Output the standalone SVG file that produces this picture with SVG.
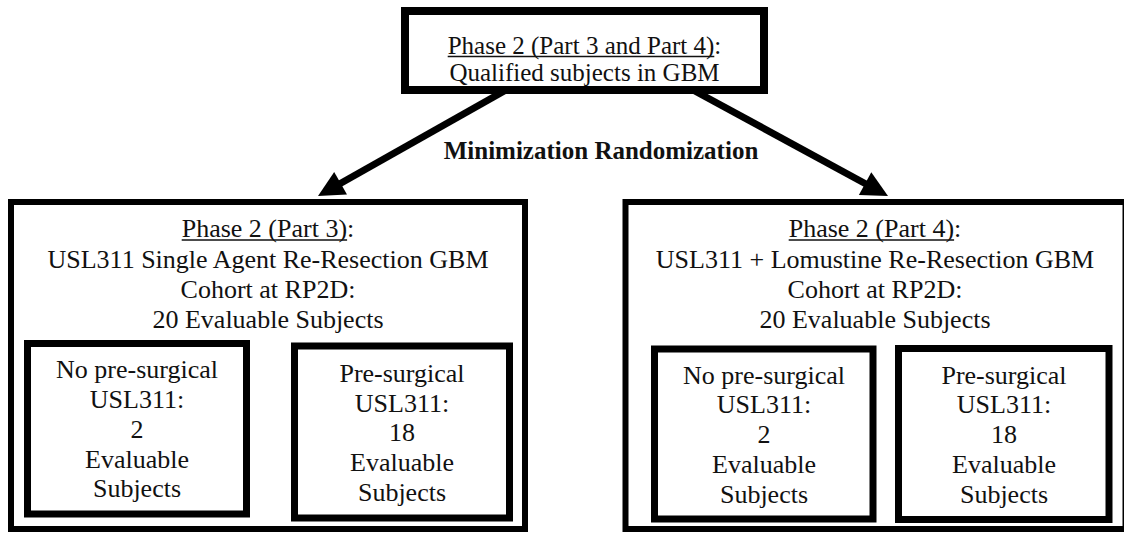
<svg xmlns="http://www.w3.org/2000/svg" width="1124" height="533" viewBox="0 0 1124 533">
  <style>
    .box { fill: #ffffff; stroke: #000000; }
    .outer { stroke-width: 6; }
    .inner { stroke-width: 7; }
    .top { stroke-width: 8; }
    text { font-family: "Liberation Serif", "Times New Roman", "DejaVu Serif", serif; font-size: 26px; fill: #111111; text-anchor: middle; }
    .small { font-size: 25px; }
    .bold { font-weight: bold; font-size: 25px; }
    .uline { stroke: #111111; stroke-width: 1.4; }
    .link { stroke: #000000; stroke-width: 7; fill: none; }
    .head { fill: #000000; }
  </style>
  <rect x="0" y="0" width="1124" height="533" fill="#ffffff"/>

  <!-- connectors -->
  <g id="connectors">
    <line class="link" x1="506" y1="90" x2="337.2" y2="185.2"/>
    <polygon class="head" points="318,196 347,194.5 334.2,171.9"/>
    <line class="link" x1="693" y1="90" x2="868.7" y2="185.5"/>
    <polygon class="head" points="888,196 858.9,195 871.3,172.2"/>
    <text class="bold" x="601" y="159">Minimization Randomization</text>
  </g>

  <!-- entry node -->
  <g id="qualified">
    <rect class="box top" x="405" y="11" width="359" height="79"/>
    <text class="small" x="584.5" y="53.5">Phase 2 (Part 3 and Part 4):</text>
    <line class="uline" x1="447.7" y1="56.5" x2="714.3" y2="56.5"/>
    <text class="small" x="584.5" y="80.5">Qualified subjects in GBM</text>
  </g>

  <!-- Part 3 cohort -->
  <g id="part3">
    <rect class="box outer" x="11" y="202" width="514" height="327"/>
    <text x="268" y="237">Phase 2 (Part 3):</text>
    <line class="uline" x1="181.7" y1="240" x2="347.1" y2="240"/>
    <text x="268" y="268">USL311 Single Agent Re-Resection GBM</text>
    <text x="268" y="298">Cohort at RP2D:</text>
    <text x="268" y="328">20 Evaluable Subjects</text>
  </g>
  <g id="part3-no-presurgical">
    <rect class="box inner" x="27.5" y="343.5" width="219" height="170.5"/>
    <text x="137" y="378">No pre-surgical</text>
    <text x="137" y="408">USL311:</text>
    <text x="137" y="438">2</text>
    <text x="137" y="468">Evaluable</text>
    <text x="137" y="497">Subjects</text>
  </g>
  <g id="part3-presurgical">
    <rect class="box inner" x="294.5" y="346" width="215" height="172"/>
    <text x="402" y="382">Pre-surgical</text>
    <text x="402" y="412">USL311:</text>
    <text x="402" y="441">18</text>
    <text x="402" y="471">Evaluable</text>
    <text x="402" y="501">Subjects</text>
  </g>

  <!-- Part 4 cohort -->
  <g id="part4">
    <rect class="box outer" x="625.5" y="202" width="500" height="327"/>
    <text x="875" y="237">Phase 2 (Part 4):</text>
    <line class="uline" x1="788.7" y1="240" x2="954.1" y2="240"/>
    <text x="875" y="268">USL311 + Lomustine Re-Resection GBM</text>
    <text x="875" y="298">Cohort at RP2D:</text>
    <text x="875" y="328">20 Evaluable Subjects</text>
  </g>
  <g id="part4-no-presurgical">
    <rect class="box inner" x="654.5" y="349" width="218.5" height="170"/>
    <text x="764" y="384">No pre-surgical</text>
    <text x="764" y="413">USL311:</text>
    <text x="764" y="443">2</text>
    <text x="764" y="473">Evaluable</text>
    <text x="764" y="503">Subjects</text>
  </g>
  <g id="part4-presurgical">
    <rect class="box inner" x="898.5" y="348.5" width="210.5" height="171"/>
    <text x="1004" y="384">Pre-surgical</text>
    <text x="1004" y="413">USL311:</text>
    <text x="1004" y="443">18</text>
    <text x="1004" y="473">Evaluable</text>
    <text x="1004" y="503">Subjects</text>
  </g>
</svg>
